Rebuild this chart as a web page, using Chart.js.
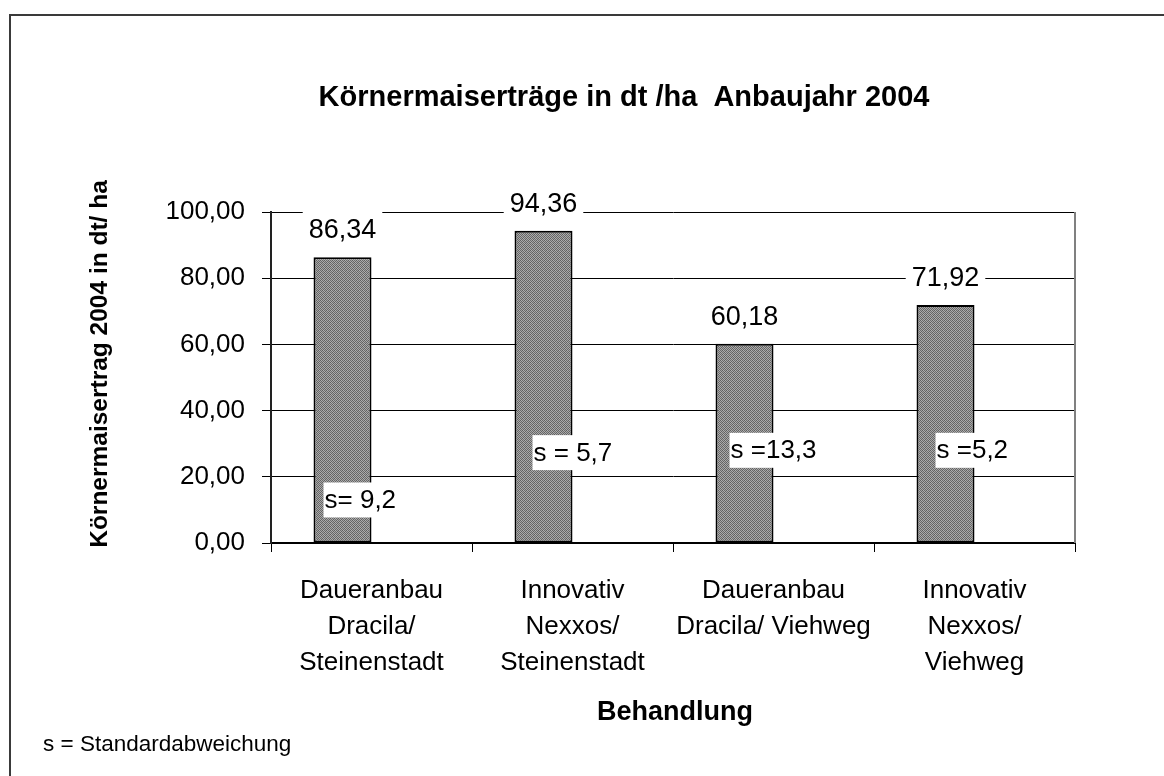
<!DOCTYPE html>
<html>
<head>
<meta charset="utf-8">
<script src="https://cdn.jsdelivr.net/npm/chart.js@4"></script>
<style>
html,body{margin:0;padding:0;background:#fff;}
#wrap{position:relative;width:1164px;height:776px;}
</style>
</head>
<body>
<div id="wrap"><canvas id="c" width="1164" height="776"></canvas></div>
<script>
// ---- data ----
const categories = [
  ['Daueranbau', 'Dracila/', 'Steinenstadt'],
  ['Innovativ', 'Nexxos/', 'Steinenstadt'],
  ['Daueranbau', 'Dracila/ Viehweg'],
  ['Innovativ', 'Nexxos/', 'Viehweg']
];
const yields = [86.34, 94.36, 60.18, 71.92];
const emptySeries = [null, null, null, null];
const sdLabels = ['s= 9,2', 's = 5,7', 's =13,3', 's =5,2'];
const yTickLabels = ['0,00', '20,00', '40,00', '60,00', '80,00', '100,00'];
const chartTitle = 'Körnermaiserträge in dt /ha  Anbaujahr 2004';
const yAxisTitle = 'Körnermaisertrag 2004 in dt/ ha';
const xAxisTitle = 'Behandlung';
const footnote = 's = Standardabweichung';

const FONT = "'Liberation Sans', Arial, sans-serif";

function makePattern() {
  const p = document.createElement('canvas');
  p.width = 4; p.height = 4;
  const g = p.getContext('2d');
  const cols = [['#606060','#b0b0b0','#6c6c6c','#a4a4a4'],
                ['#a8a8a8','#686868','#acacac','#646464'],
                ['#6a6a6a','#a2a2a2','#5e5e5e','#b2b2b2'],
                ['#aeaeae','#626262','#a6a6a6','#6e6e6e']];
  for (let y = 0; y < 4; y++) for (let x = 0; x < 4; x++) {
    g.fillStyle = cols[y][x]; g.fillRect(x, y, 1, 1);
  }
  return document.getElementById('c').getContext('2d').createPattern(p, 'repeat');
}

const decorPlugin = {
  id: 'decor',
  afterDraw(chart, args, opts) {
    const ctx = chart.ctx;
    const ca = chart.chartArea;
    ctx.save();
    // outer frame (top + left)
    ctx.strokeStyle = '#3a3a3a';
    ctx.lineWidth = 2;
    ctx.beginPath();
    ctx.moveTo(10, 776); ctx.lineTo(10, 15); ctx.lineTo(1164, 15);
    ctx.stroke();
    // plot area right border
    ctx.strokeStyle = '#808080';
    ctx.lineWidth = 2;
    ctx.beginPath();
    ctx.moveTo(ca.right, ca.top); ctx.lineTo(ca.right, ca.bottom);
    ctx.stroke();

    const meta = chart.getDatasetMeta(0);
    const yScale = chart.scales.y;
    // value labels
    ctx.font = '27px ' + FONT;
    ctx.textAlign = 'center';
    ctx.textBaseline = 'alphabetic';
    meta.data.forEach((bar, i) => {
      const txt = yields[i].toFixed(2).replace('.', ',');
      const w = ctx.measureText(txt).width;
      const base = bar.y - opts.labelGap;
      ctx.fillStyle = '#fff';
      ctx.fillRect(bar.x - w / 2 - 6, base - 29, w + 12, 35);
      ctx.fillStyle = '#000';
      ctx.fillText(txt, bar.x, base);
    });
    // standard deviation labels
    ctx.font = '26px ' + FONT;
    ctx.textAlign = 'left';
    ctx.textBaseline = 'middle';
    meta.data.forEach((bar, i) => {
      const txt = sdLabels[i];
      const w = ctx.measureText(txt).width;
      const x0 = bar.x - bar.width / 2 + opts.sdOffsetX[i];
      const yc = yScale.getPixelForValue(opts.sdAtValue[i]);
      ctx.fillStyle = '#fff';
      ctx.fillRect(x0, yc - 17.5, w + 3, 35);
      ctx.fillStyle = '#000';
      ctx.fillText(txt, x0 + 1, yc + 1);
    });
    // title
    ctx.fillStyle = '#000';
    ctx.font = 'bold 29px ' + FONT;
    ctx.textAlign = 'center';
    ctx.textBaseline = 'middle';
    ctx.fillText(chartTitle, 624, 98);
    // x-axis title
    ctx.font = 'bold 27px ' + FONT;
    ctx.fillText(xAxisTitle, 675, 713);
    // footnote
    ctx.font = '22.5px ' + FONT;
    ctx.textAlign = 'left';
    ctx.fillText(footnote, 43, 745);
    // y-axis title
    ctx.translate(100, 364);
    ctx.rotate(-Math.PI / 2);
    ctx.font = 'bold 24.5px ' + FONT;
    ctx.textAlign = 'center';
    ctx.fillText(yAxisTitle, 0, 0);
    ctx.restore();
  }
};

const barPattern = makePattern();

new Chart(document.getElementById('c'), {
  type: 'bar',
  data: {
    labels: categories,
    datasets: [
      { label: 'Ertrag', data: yields, backgroundColor: barPattern, borderColor: '#000', borderWidth: 2, borderSkipped: false },
      { label: 'leer', data: emptySeries, backgroundColor: '#fff' }
    ]
  },
  options: {
    responsive: false,
    animation: false,
    devicePixelRatio: 1,
    categoryPercentage: 0.577,
    barPercentage: 1.0,
    layout: { padding: { left: 0, right: 89, top: 212, bottom: 0 } },
    plugins: {
      legend: { display: false },
      tooltip: { enabled: false },
      title: { display: false },
      decor: { labelGap: 19, sdOffsetX: [10, 18, 14, 19], sdAtValue: [13.0, 27.3, 28.0, 28.0] }
    },
    scales: {
      x: {
        afterFit(scale) { scale.height = 233; },
        grid: { drawOnChartArea: false, drawTicks: true, tickLength: 9, color: '#000', lineWidth: 1 },
        border: { display: true, color: '#000', width: 2 },
        ticks: { color: '#000', font: { family: FONT, size: 26, lineHeight: 1.38 }, padding: 21, maxRotation: 0, autoSkip: false }
      },
      y: {
        min: 0, max: 100,
        afterFit(scale) { scale.width = 271; },
        grid: { color: '#000', lineWidth: 1, tickLength: 9, drawTicks: true },
        border: { display: true, color: '#222', width: 2 },
        ticks: {
          stepSize: 20, color: '#000', padding: 17,
          font: { family: FONT, size: 26 },
          callback: (v, i) => yTickLabels[i]
        }
      }
    }
  },
  plugins: [decorPlugin]
});
</script>
</body>
</html>
